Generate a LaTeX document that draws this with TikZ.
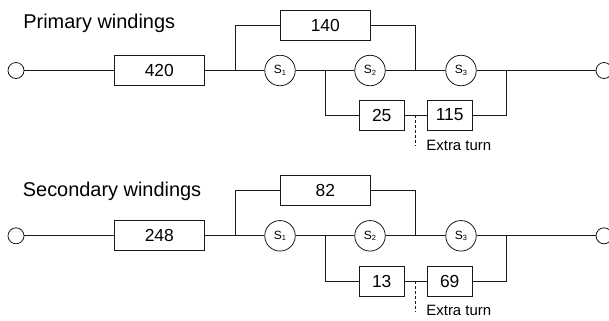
\documentclass[tikz,border=0pt]{standalone}
\usepackage{fontspec}
\setmainfont{Liberation Sans}
\newcommand{\swlabel}[1]{{\fontsize{12}{14}\selectfont S\raisebox{-1.5bp}{\fontsize{7.5}{8}\selectfont #1}}}
\tikzset{
  x=1bp,y=-1bp,
  conn/.style={draw=black!90},
  wbox/.style={draw=black!90,rectangle,inner sep=0pt,minimum height=30bp,font=\fontsize{17.5}{20}\selectfont,text=black},
  wide/.style={wbox,minimum width=90.5bp},
  narrow/.style={wbox,minimum width=45.5bp},
  switch/.style={draw=black!90,circle,inner sep=0pt,minimum size=30.5bp,text=black},
  terminal/.style={draw=black!90,circle,inner sep=0pt,minimum size=16bp},
  title/.style={anchor=west,inner sep=0pt,font=\fontsize{20}{24}\selectfont,text=black},
  note/.style={anchor=west,inner sep=0pt,font=\fontsize{15}{18}\selectfont,text=black},
  tap/.style={draw=black!90,dash pattern=on 3bp off 2bp,line width=0.6bp}
}
\begin{document}
\begin{tikzpicture}[line width=0.8bp]
\useasboundingbox (0,0) rectangle (609,320);
% Primary
\node[title] (t1) at (23,23) {Primary windings};
\node[terminal] (a0) at (16,70.5) {};
\node[wide] (a420) at (159.3,70.5) {420};
\node[wide] (a140) at (325.3,25) {140};
\node[switch] (as1) at (280,70.5) {\swlabel{1}};
\node[switch] (as2) at (370,70.5) {\swlabel{2}};
\node[switch] (as3) at (461,70.5) {\swlabel{3}};
\node[narrow] (a25) at (381.7,115) {25};
\node[narrow] (a115) at (449.7,115) {115};
\node[terminal] (a9) at (604,70.5) {};
\node[note] (an) at (426,145) {Extra turn};
\coordinate (aj1) at (235,70.5);
\coordinate (aj2) at (325.5,70.5);
\coordinate (aj3) at (415.5,70.5);
\coordinate (aj4) at (506,70.5);
\coordinate (at) at (415.5,115);
\coordinate (ad) at (415.5,146);
\draw[conn] (a0) -- (a420);
\draw[conn] (a420) -- (aj1) -- (as1);
\draw[conn] (as1) -- (aj2) -- (as2);
\draw[conn] (as2) -- (aj3) -- (as3);
\draw[conn] (as3) -- (aj4) -- (a9);
\draw[conn] (aj1) |- (a140);
\draw[conn] (a140) -| (aj3);
\draw[conn] (aj2) |- (a25);
\draw[conn] (a25) -- (a115);
\draw[conn] (a115) -| (aj4);
\draw[tap] (at) -- (ad);
% Secondary
\node[title] (t2) at (22.5,191) {Secondary windings};
\node[terminal] (b0) at (16,235.8) {};
\node[wide] (b248) at (159.3,235.8) {248};
\node[wide] (b82) at (325.3,190.5) {82};
\node[switch] (bs1) at (280,235.8) {\swlabel{1}};
\node[switch] (bs2) at (370,235.8) {\swlabel{2}};
\node[switch] (bs3) at (461,235.8) {\swlabel{3}};
\node[narrow] (b13) at (381.7,281) {13};
\node[narrow] (b69) at (449.7,281) {69};
\node[terminal] (b9) at (604,235.8) {};
\node[note] (bn) at (426,310) {Extra turn};
\coordinate (bj1) at (235,235.8);
\coordinate (bj2) at (325.5,235.8);
\coordinate (bj3) at (415.5,235.8);
\coordinate (bj4) at (506,235.8);
\coordinate (bt) at (415.5,281);
\coordinate (bd) at (415.5,312);
\draw[conn] (b0) -- (b248);
\draw[conn] (b248) -- (bj1) -- (bs1);
\draw[conn] (bs1) -- (bj2) -- (bs2);
\draw[conn] (bs2) -- (bj3) -- (bs3);
\draw[conn] (bs3) -- (bj4) -- (b9);
\draw[conn] (bj1) |- (b82);
\draw[conn] (b82) -| (bj3);
\draw[conn] (bj2) |- (b13);
\draw[conn] (b13) -- (b69);
\draw[conn] (b69) -| (bj4);
\draw[tap] (bt) -- (bd);
\end{tikzpicture}
\end{document}
